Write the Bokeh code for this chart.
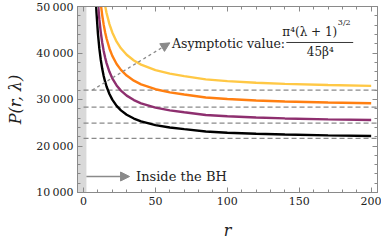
from bokeh.plotting import figure
from bokeh.models import (Range1d, FixedTicker, LinearAxis, BoxAnnotation, Arrow,
                          NormalHead, Label, CustomJSTickFormatter)
from bokeh.embed import file_html
from bokeh.resources import INLINE

# ---- data ----
r = [8, 9, 10, 11, 12, 13, 14, 15, 16, 18, 20, 23, 26, 30, 35, 40, 50, 60, 70,
     85, 100, 120, 140, 170, 200]
p_black = [55420, 48710, 44180, 40930, 38490, 36590, 35070, 33830, 32800, 31180,
           29970, 28630, 27670, 26730, 25900, 25300, 24500, 23990, 23630,
           23110, 22860, 22620, 22460, 22290, 22160]
p_purple = [63920, 56180, 50960, 47210, 44390, 42200, 40450, 39020, 37830, 35960,
            34560, 33020, 31910, 30830, 29870, 29180, 28260, 27670, 27260,
            26680, 26390, 26120, 25930, 25730, 25590]
p_orange = [72860, 64040, 58080, 53810, 50600, 48100, 46100, 44470, 43110, 40980,
            39390, 37640, 36370, 35140, 34050, 33260, 32210, 31530, 31070,
            30430, 30100, 29790, 29570, 29340, 29180]
p_yellow = [82150, 72200, 65490, 60670, 57050, 54230, 51980, 50140, 48610, 46210,
            44420, 42440, 41010, 39620, 38390, 37500, 36320, 35560, 35030,
            34330, 33960, 33610, 33360, 33110, 32930]
asymptotes = [21640, 24900, 28350, 32000]
horizon_r = 2
x_ticks = [0, 50, 100, 150, 200]
y_ticks = [10000, 20000, 30000, 40000, 50000]

series = [(p_black, "#000000"), (p_purple, "#8E2F6F"),
          (p_orange, "#FF7F11"), (p_yellow, "#FFC845")]

X0, X1 = -4.2, 204.4
Y0, Y1 = 10000, 50000
FONT = "DejaVu Serif"
GRAY = "#8a8a8a"

p = figure(width=381, height=244, x_range=Range1d(X0, X1), y_range=Range1d(Y0, Y1),
           output_backend="svg", toolbar_location=None,
           min_border_left=77, min_border_right=4, min_border_top=6,
           min_border_bottom=52)
p.xgrid.visible = False
p.ygrid.visible = False
p.outline_line_color = GRAY
p.background_fill_color = "white"
p.border_fill_color = "white"

# gray band "inside the BH"
p.add_layout(BoxAnnotation(right=horizon_r, fill_color="#d9d9d9", fill_alpha=1,
                           line_alpha=0, level="underlay"))

# asymptote dashed lines
for a in asymptotes:
    p.line([0, X1], [a, a], line_color=GRAY, line_width=1.3, line_dash="5 3")

for vals, col in series:
    p.line(r, vals, line_color=col, line_width=2.4)

xt = FixedTicker(ticks=x_ticks, minor_ticks=list(range(0, 201, 10)))
yt = FixedTicker(ticks=y_ticks, minor_ticks=list(range(10000, 50001, 2000)))


def style_axis(ax):
    ax.axis_line_color = GRAY
    ax.major_tick_line_color = GRAY
    ax.minor_tick_line_color = GRAY
    ax.major_tick_in = 5
    ax.major_tick_out = 0
    ax.minor_tick_in = 3
    ax.minor_tick_out = 0
    ax.major_label_text_font = FONT
    ax.major_label_text_font_size = "11px"
    ax.major_label_text_color = "#222222"
    ax.axis_label_text_font = FONT
    ax.axis_label_text_font_style = "italic"
    ax.axis_label_text_font_size = "16px"
    ax.axis_label_text_color = "#222222"


xa = p.xaxis[0]
xa.ticker = xt
style_axis(xa)
xa.axis_label = "r"
xa.major_label_standoff = 4
xa.axis_label_standoff = 13

ya = p.yaxis[0]
ya.ticker = yt
style_axis(ya)
ya.axis_label = "P(r, λ)"
ya.major_label_overrides = {v: f"{v:,}".replace(",", "\u2009") for v in y_ticks}
ya.major_label_standoff = 4
ya.axis_label_standoff = 8

blank = "return ''"
top = LinearAxis(ticker=xt, formatter=CustomJSTickFormatter(code=blank))
right = LinearAxis(ticker=yt, formatter=CustomJSTickFormatter(code=blank))
for ax in (top, right):
    style_axis(ax)
    ax.major_label_standoff = 0
    ax.major_label_text_font_size = "0px"
p.add_layout(top, "above")
p.add_layout(right, "right")

# annotations
p.add_layout(Arrow(x_start=6, y_start=32000, x_end=60, y_end=42180,
                   line_color=GRAY, line_width=1.3, line_dash="3 3",
                   end=NormalHead(size=9, fill_color=GRAY, line_color=GRAY)))
p.add_layout(Label(x=61.5, y=42100, text="Asymptotic value:", text_font=FONT,
                   text_font_size="12.5px", text_baseline="middle", text_color="#222222"))
p.add_layout(Label(x=176.4, y=44620, text="π⁴(λ + 1)", text_font=FONT,
                   text_font_size="12px", text_baseline="middle", text_align="right",
                   text_color="#222222"))
p.add_layout(Label(x=176.8, y=46560, text="3/2", text_font=FONT,
                   text_font_size="8px", text_baseline="middle", text_align="left",
                   text_color="#222222"))
p.line([141, 187.5], [42260, 42260], line_color="#222222", line_width=0.9)
p.add_layout(Label(x=164.6, y=40220, text="45β⁴", text_font=FONT,
                   text_font_size="12px", text_baseline="middle", text_align="center",
                   text_color="#222222"))

p.add_layout(Arrow(x_start=2, y_start=13440, x_end=32, y_end=13440,
                   line_color=GRAY, line_width=1.3,
                   end=NormalHead(size=9, fill_color=GRAY, line_color=GRAY)))
p.add_layout(Label(x=36.5, y=13440, text="Inside the BH", text_font=FONT,
                   text_font_size="13px", text_baseline="middle", text_color="#222222"))

open("out.html", "w").write(file_html(p, INLINE))
